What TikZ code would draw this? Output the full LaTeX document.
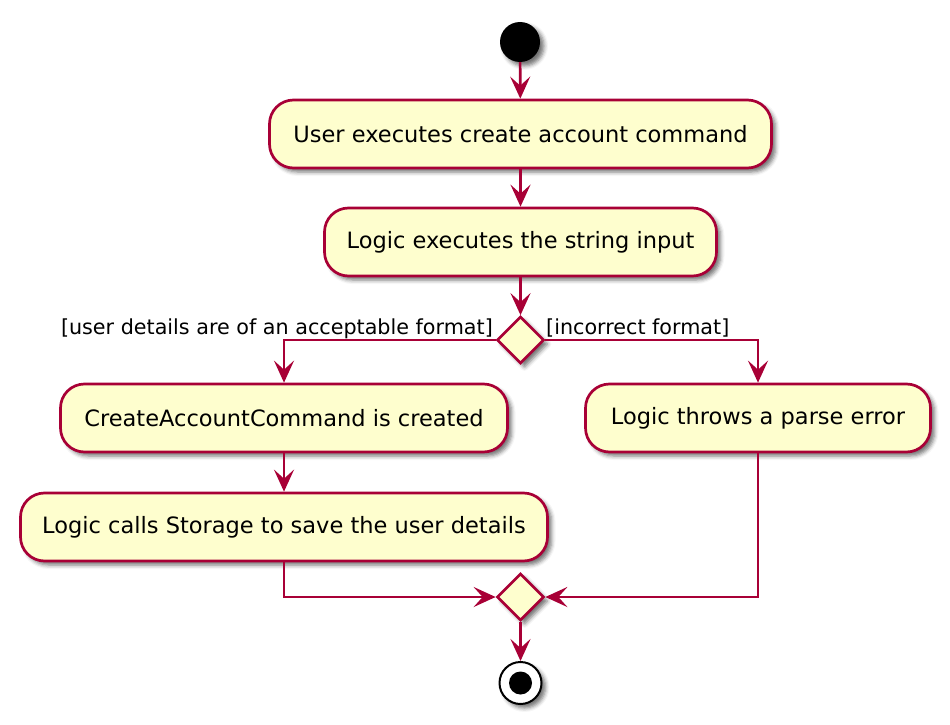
\documentclass[tikz,border=0pt]{standalone}
\usepackage{fontspec}
\setmainfont{DejaVu Sans}
\usetikzlibrary{arrows.meta,shapes.geometric,shadows.blur}
\definecolor{pborder}{HTML}{A80036}
\definecolor{pfill}{HTML}{FEFECE}
\tikzset{
  pshadow/.style={blur shadow={shadow xshift=4pt, shadow yshift=-4pt, shadow blur radius=4pt, shadow opacity=55}},
  actbox/.style={draw=pborder, fill=pfill, line width=2.7pt, rounded corners=24pt,
    minimum height=68pt, inner sep=0pt, pshadow,
    font=\fontsize{22.5}{27}\selectfont},
  decision/.style={draw=pborder, fill=pfill, line width=2.7pt, diamond, aspect=1,
    inner sep=0pt, minimum width=47pt, minimum height=47pt, pshadow},
  flow/.style={draw=pborder, line width=2.7pt, -{Stealth[length=22pt,width=20pt,inset=9pt]}},
  guard/.style={font=\fontsize{20.7}{24}\selectfont, inner sep=0pt}
}
\begin{document}
\begin{tikzpicture}[x=1pt,y=-1pt]
\useasboundingbox (0,0) rectangle (950,725);
% start
\node[circle, fill=black, minimum size=40pt, inner sep=0pt, pshadow] (start) at (520,42) {};
% actions
\node[actbox, minimum width=502pt] (b1) at (520.5,134) {User executes create account command};
\node[actbox, minimum width=392pt] (b2) at (520.5,242) {Logic executes the string input};
\node[decision] (d1) at (520.5,340) {};
\node[actbox, minimum width=447pt] (b3) at (284,418) {CreateAccountCommand is created};
\node[actbox, minimum width=345pt] (b4) at (758,418) {Logic throws a parse error};
\node[actbox, minimum width=527pt] (b5) at (284,527) {Logic calls Storage to save the user details};
\node[decision] (d2) at (520.5,597) {};
% end
\node[circle, draw=black, line width=2pt, fill=white, minimum size=42pt, inner sep=0pt, pshadow] (stop) at (520.5,683) {};
\node[circle, fill=black, minimum size=23pt, inner sep=0pt] (stopin) at (stop.center) {};
% guards
\node[guard, anchor=base east] (g1) at (493,334) {[user details are of an acceptable format]};
\node[guard, anchor=base west] (g2) at (546,334) {[incorrect format]};
% connectors
\draw[flow] (start) -- (b1);
\draw[flow] (b1) -- (b2);
\draw[flow] (b2) -- (d1);
\draw[flow] (d1.west) -| (b3.north);
\draw[flow] (d1.east) -| (b4.north);
\draw[flow] (b3) -- (b5);
\draw[flow] (b5.south) |- (d2.west);
\draw[flow] (b4.south) |- (d2.east);
\draw[flow] (d2) -- (stop);
\end{tikzpicture}
\end{document}
